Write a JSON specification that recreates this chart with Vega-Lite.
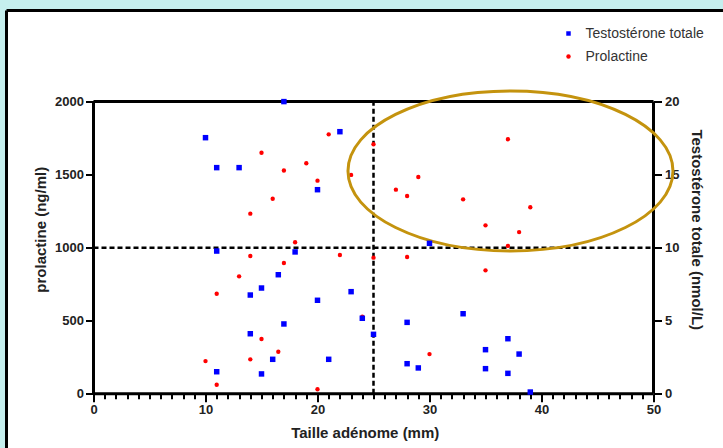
{
  "$schema": "https://vega.github.io/schema/vega-lite/v6.json",
  "width": 716.5,
  "height": 437.5,
  "autosize": {"type": "none"},
  "padding": {"left": 6.5, "top": 10.5, "right": 0, "bottom": 0},
  "background": "#c5efee",
  "datasets": {
    "prl": [
      {"taille": 10, "prolactine": 224, "serie": "Prolactine"},
      {"taille": 11, "prolactine": 62, "serie": "Prolactine"},
      {"taille": 11, "prolactine": 685, "serie": "Prolactine"},
      {"taille": 13, "prolactine": 804, "serie": "Prolactine"},
      {"taille": 14, "prolactine": 943, "serie": "Prolactine"},
      {"taille": 14, "prolactine": 236, "serie": "Prolactine"},
      {"taille": 14, "prolactine": 1233, "serie": "Prolactine"},
      {"taille": 15, "prolactine": 1650, "serie": "Prolactine"},
      {"taille": 15, "prolactine": 375, "serie": "Prolactine"},
      {"taille": 16, "prolactine": 1335, "serie": "Prolactine"},
      {"taille": 16.5, "prolactine": 288, "serie": "Prolactine"},
      {"taille": 17, "prolactine": 895, "serie": "Prolactine"},
      {"taille": 17, "prolactine": 1528, "serie": "Prolactine"},
      {"taille": 18, "prolactine": 1037, "serie": "Prolactine"},
      {"taille": 19, "prolactine": 1578, "serie": "Prolactine"},
      {"taille": 20, "prolactine": 1459, "serie": "Prolactine"},
      {"taille": 20, "prolactine": 31, "serie": "Prolactine"},
      {"taille": 21, "prolactine": 1776, "serie": "Prolactine"},
      {"taille": 22, "prolactine": 950, "serie": "Prolactine"},
      {"taille": 23, "prolactine": 1498, "serie": "Prolactine"},
      {"taille": 24, "prolactine": 528, "serie": "Prolactine"},
      {"taille": 25, "prolactine": 1708, "serie": "Prolactine"},
      {"taille": 25, "prolactine": 932, "serie": "Prolactine"},
      {"taille": 27, "prolactine": 1397, "serie": "Prolactine"},
      {"taille": 28, "prolactine": 1354, "serie": "Prolactine"},
      {"taille": 28, "prolactine": 936, "serie": "Prolactine"},
      {"taille": 29, "prolactine": 1484, "serie": "Prolactine"},
      {"taille": 30, "prolactine": 272, "serie": "Prolactine"},
      {"taille": 33, "prolactine": 1331, "serie": "Prolactine"},
      {"taille": 35, "prolactine": 1153, "serie": "Prolactine"},
      {"taille": 35, "prolactine": 845, "serie": "Prolactine"},
      {"taille": 37, "prolactine": 1742, "serie": "Prolactine"},
      {"taille": 37, "prolactine": 1012, "serie": "Prolactine"},
      {"taille": 38, "prolactine": 1107, "serie": "Prolactine"},
      {"taille": 39, "prolactine": 1277, "serie": "Prolactine"}
    ],
    "testo": [
      {"taille": 10, "testosterone": 17.53, "serie": "Testostérone totale"},
      {"taille": 11, "testosterone": 15.48, "serie": "Testostérone totale"},
      {"taille": 13, "testosterone": 15.48, "serie": "Testostérone totale"},
      {"taille": 17, "testosterone": 20, "serie": "Testostérone totale"},
      {"taille": 22, "testosterone": 17.94, "serie": "Testostérone totale"},
      {"taille": 20, "testosterone": 13.97, "serie": "Testostérone totale"},
      {"taille": 11, "testosterone": 9.77, "serie": "Testostérone totale"},
      {"taille": 18, "testosterone": 9.71, "serie": "Testostérone totale"},
      {"taille": 16.5, "testosterone": 8.15, "serie": "Testostérone totale"},
      {"taille": 15, "testosterone": 7.24, "serie": "Testostérone totale"},
      {"taille": 14, "testosterone": 6.76, "serie": "Testostérone totale"},
      {"taille": 17, "testosterone": 4.78, "serie": "Testostérone totale"},
      {"taille": 14, "testosterone": 4.11, "serie": "Testostérone totale"},
      {"taille": 16, "testosterone": 2.36, "serie": "Testostérone totale"},
      {"taille": 11, "testosterone": 1.51, "serie": "Testostérone totale"},
      {"taille": 15, "testosterone": 1.36, "serie": "Testostérone totale"},
      {"taille": 30, "testosterone": 10.3, "serie": "Testostérone totale"},
      {"taille": 23, "testosterone": 6.99, "serie": "Testostérone totale"},
      {"taille": 20, "testosterone": 6.4, "serie": "Testostérone totale"},
      {"taille": 24, "testosterone": 5.17, "serie": "Testostérone totale"},
      {"taille": 28, "testosterone": 4.89, "serie": "Testostérone totale"},
      {"taille": 33, "testosterone": 5.48, "serie": "Testostérone totale"},
      {"taille": 25, "testosterone": 4.07, "serie": "Testostérone totale"},
      {"taille": 21, "testosterone": 2.36, "serie": "Testostérone totale"},
      {"taille": 28, "testosterone": 2.06, "serie": "Testostérone totale"},
      {"taille": 29, "testosterone": 1.77, "serie": "Testostérone totale"},
      {"taille": 37, "testosterone": 3.77, "serie": "Testostérone totale"},
      {"taille": 35, "testosterone": 3.02, "serie": "Testostérone totale"},
      {"taille": 38, "testosterone": 2.72, "serie": "Testostérone totale"},
      {"taille": 35, "testosterone": 1.72, "serie": "Testostérone totale"},
      {"taille": 37, "testosterone": 1.4, "serie": "Testostérone totale"},
      {"taille": 39, "testosterone": 0.12, "serie": "Testostérone totale"}
    ]
  },
  "layer": [
    {
      "data": {"values": [{}]},
      "layer": [
        {
          "mark": {"type": "rule", "color": "black", "strokeWidth": 3},
          "encoding": {"x": {"datum": -7.768}, "y": {"datum": -371}, "y2": {"datum": 2623.5}}
        },
        {
          "mark": {"type": "rule", "color": "black", "strokeWidth": 3},
          "encoding": {"y": {"datum": 2623.5}, "x": {"datum": -7.768}, "x2": {"datum": 56.205}}
        },
        {
          "mark": {"type": "rule", "color": "black", "strokeWidth": 2.5, "strokeDash": [5, 3]},
          "encoding": {"x": {"datum": 25}, "y": {"datum": 0}, "y2": {"datum": 2000}}
        },
        {
          "mark": {"type": "rule", "color": "black", "strokeWidth": 2.5, "strokeDash": [5, 3]},
          "encoding": {"y": {"datum": 1000}, "x": {"datum": 0}, "x2": {"datum": 50}}
        },
        {
          "mark": {"type": "rule", "color": "black", "strokeWidth": 3},
          "encoding": {"y": {"datum": 0}, "x": {"datum": 0}, "x2": {"datum": 50}}
        },
        {
          "mark": {"type": "rule", "color": "black", "strokeWidth": 3},
          "encoding": {"y": {"datum": 2000}, "x": {"datum": 0}, "x2": {"datum": 50}}
        },
        {
          "mark": {"type": "rule", "color": "black", "strokeWidth": 3},
          "encoding": {"x": {"datum": 0}, "y": {"datum": 0}, "y2": {"datum": 2000}}
        },
        {
          "mark": {"type": "rule", "color": "black", "strokeWidth": 3},
          "encoding": {"x": {"datum": 50}, "y": {"datum": 0}, "y2": {"datum": 2000}}
        },
        {
          "data": {"name": "prl"},
          "mark": {"type": "point", "filled": true, "size": 19, "opacity": 1},
          "encoding": {
            "x": {
              "field": "taille", "type": "quantitative", "title": "Taille adénome (mm)",
              "scale": {"domain": [-7.768, 56.205], "nice": false, "zero": false},
              "axis": {
                "orient": "bottom", "offset": -54.2, "domain": false, "grid": false,
                "values": [0,1,2,3,4,5,6,7,8,9,10,11,12,13,14,15,16,17,18,19,20,21,22,23,24,25,26,27,28,29,30,31,32,33,34,35,36,37,38,39,40,41,42,43,44,45,46,47,48,49,50],
                "tickCount": 60,
                "labelExpr": "datum.value % 10 === 0 ? datum.label : ''",
                "labelOverlap": false, "labelFlush": false,
                "tickSize": {"condition": {"test": "datum.value % 10 === 0", "value": 8}, "value": 5},
                "tickWidth": 2, "tickColor": "black",
                "labelPadding": 2, "titlePadding": 9
              }
            },
            "y": {
              "field": "prolactine", "type": "quantitative", "title": "prolactine (ng/ml)",
              "scale": {"domain": [-371, 2623.5], "nice": false, "zero": false},
              "axis": {
                "orient": "left", "offset": -87, "domain": false, "grid": false,
                "values": [0, 500, 1000, 1500, 2000], "format": "d",
                "tickSize": 8, "tickWidth": 2, "tickColor": "black",
                "labelPadding": 2, "titlePadding": 6
              }
            },
            "color": {"field": "serie", "type": "nominal", "scale": {"domain": ["Testostérone totale", "Prolactine"], "range": ["#0000ff", "#ff0000"]},
              "legend": {"orient": "none", "legendX": 555, "legendY": 16, "title": null, "direction": "vertical"}},
            "shape": {"field": "serie", "type": "nominal", "scale": {"domain": ["Testostérone totale", "Prolactine"], "range": ["square", "circle"]},
              "legend": {"orient": "none", "legendX": 555, "legendY": 16, "title": null, "direction": "vertical"}}
          }
        },
        {
          "mark": {"type": "point", "filled": false, "shape": "M-1,0A1,0.492,0,1,0,1,0A1,0.492,0,1,0,-1,0Z", "size": 105625, "stroke": "#c4930e", "strokeWidth": 3, "opacity": 1},
          "encoding": {"x": {"datum": 37.23}, "y": {"datum": 1525}}
        }
      ]
    },
    {
      "data": {"name": "testo"},
      "mark": {"type": "point", "filled": true, "size": 30, "opacity": 1},
      "encoding": {
        "x": {
          "field": "taille", "type": "quantitative", "title": "Taille adénome (mm)",
          "scale": {"domain": [-7.768, 56.205], "nice": false, "zero": false},
          "axis": {
            "orient": "bottom", "offset": -54.2, "domain": false, "grid": false,
            "values": [0,1,2,3,4,5,6,7,8,9,10,11,12,13,14,15,16,17,18,19,20,21,22,23,24,25,26,27,28,29,30,31,32,33,34,35,36,37,38,39,40,41,42,43,44,45,46,47,48,49,50],
            "tickCount": 60,
            "labelExpr": "datum.value % 10 === 0 ? datum.label : ''",
            "labelOverlap": false, "labelFlush": false,
            "tickSize": {"condition": {"test": "datum.value % 10 === 0", "value": 8}, "value": 5},
            "tickWidth": 2, "tickColor": "black",
            "labelPadding": 2, "titlePadding": 9
          }
        },
        "y": {
          "field": "testosterone", "type": "quantitative", "title": "Testostérone totale (nmol/L)",
          "scale": {"domain": [-3.71, 26.235], "nice": false, "zero": false},
          "axis": {
            "orient": "right", "offset": -69.5, "domain": false, "grid": false,
            "values": [0, 5, 10, 15, 20],
            "tickSize": 8, "tickWidth": 2, "tickColor": "black",
            "labelPadding": 3, "titlePadding": 10
          }
        },
        "color": {"field": "serie", "type": "nominal"},
        "shape": {"field": "serie", "type": "nominal"}
      }
    }
  ],
  "resolve": {"scale": {"y": "independent"}},
  "config": {
    "view": {"stroke": null, "fill": "white"},
    "axis": {
      "labelFont": "Liberation Sans", "labelFontWeight": "bold", "labelFontSize": 13, "labelColor": "#222",
      "titleFont": "Liberation Sans", "titleFontWeight": "bold", "titleFontSize": 15, "titleColor": "#222"
    },
    "legend": {
      "labelFont": "Liberation Sans", "labelFontSize": 14, "labelColor": "#333",
      "symbolSize": 20, "rowPadding": 9, "padding": 0, "labelOffset": 10
    }
  }
}
